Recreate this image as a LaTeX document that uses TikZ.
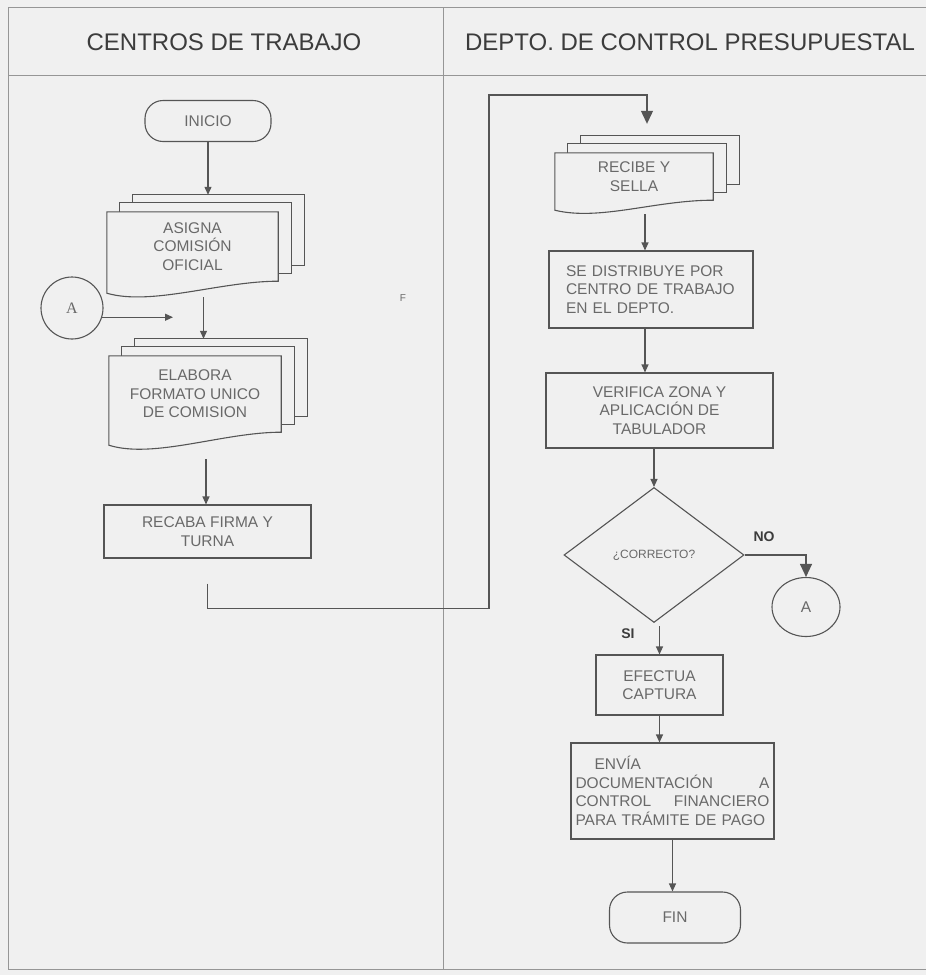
\documentclass[tikz,border=0pt]{standalone}
\usepackage{fontspec}
\setmainfont{Liberation Sans}
\newfontfamily\serifA{Liberation Serif}
\usetikzlibrary{positioning, arrows.meta, shapes.geometric, calc, backgrounds}
\definecolor{paper}{RGB}{240,240,240}
\definecolor{lineg}{RGB}{85,85,85}
\definecolor{frameg}{RGB}{150,150,150}
\definecolor{textg}{RGB}{105,105,105}
\definecolor{headg}{RGB}{60,60,60}
\newcommand\boxfont{\fontsize{15.5}{18.5}\selectfont}
% three stacked sheets behind a node, wavy bottom on the front one
\newcommand\docstack[2]{%
  \begin{pgfonlayer}{background}
    \filldraw[sheet] ($(#1.north west)+(26,-17)$) rectangle ($(#1.south east)+(26,-16)$);
    \filldraw[sheet] ($(#1.north west)+(13,-9)$) rectangle ($(#1.south east)+(13,-8)$);
    \filldraw[sheet] (#1.north west) -- (#1.north east) -- (#1.south east)
      .. controls +(-58,0) and +(45,#2+1) .. ($(#1.south west)+(0,#2)$) -- cycle;
  \end{pgfonlayer}
  \coordinate (#1-top) at ($(#1.north)+(13,-17)$);
  \coordinate (#1-bot) at ($(#1.south)+(11,#2+4)$);}

\begin{document}
\begin{tikzpicture}[x=1pt, y=-1pt,
    ->/.style={-{Triangle[length=8pt, width=7pt]}, draw=lineg, line width=1.1pt},
    bigarrow/.style={-{Triangle[length=13pt, width=12pt]}, draw=lineg, line width=1.1pt},
    sheet/.style={draw=lineg, fill=paper, line width=1.1pt},
    doc/.style={inner sep=0pt, text=textg, font=\boxfont, align=center},
    proc/.style={draw=lineg, line width=1.1pt, text=textg, font=\boxfont, align=center},
    term/.style={proc, rounded corners=18pt},
    frame/.style={draw=frameg, line width=0.9pt}]
  \begin{pgfonlayer}{background}
    \fill[paper] (0,0) rectangle (926,975);
  \end{pgfonlayer}
  \useasboundingbox (0,0) rectangle (926,975);
  % swimlanes
  \draw[frame] (926,7) -- (8,7) -- (8,969) -- (926,969);
  \draw[frame] (8,75) -- (926,75);
  \draw[frame] (443,7) -- (443,969);
  \node[text=headg, font=\fontsize{24}{26}\selectfont] (hcentros) at (224,42) {CENTROS DE TRABAJO};
  \node[text=headg, font=\fontsize{24}{26}\selectfont] (hdepto) at (690,42) {DEPTO. DE CONTROL PRESUPUESTAL};

  % centros de trabajo
  \node[term, minimum width=126pt, minimum height=41pt] (inicio) at (208,121) {INICIO};
  \node[doc, minimum width=171pt, minimum height=69pt] (asigna) at (192.5,246.5) {ASIGNA\\COMISIÓN\\OFICIAL};
  \docstack{asigna}{12}
  \node[draw=lineg, line width=1.1pt, circle, minimum size=62pt, text=textg,
    font=\serifA\fontsize{16}{18}\selectfont] (ca) at (72,308) {A};
  \coordinate (join) at (173,317);
  \node[doc, minimum width=172pt, minimum height=76pt] (elabora) at (195,394) {ELABORA\\FORMATO UNICO\\DE COMISION};
  \docstack{elabora}{13}
  \node[text=textg, font=\fontsize{10}{12}\selectfont] (fmark) at (403,298) {F};
  \node[proc, minimum width=207pt, minimum height=53pt] (recaba) at (207.5,531.5) {RECABA FIRMA Y\\TURNA};

  % depto. de control presupuestal
  \node[doc, minimum width=158pt, minimum height=47pt] (recibe) at (634,176.5) {RECIBE Y\\SELLA};
  \docstack{recibe}{10}
  \node[proc, minimum width=204pt, minimum height=77pt, text width=170pt, inner xsep=17pt,
    align=left] (distrib) at (651,289.5) {SE DISTRIBUYE POR\\CENTRO DE TRABAJO\\EN EL DEPTO.};
  \node[proc, minimum width=227pt, minimum height=75pt] (verifica) at (659.5,410.5) {VERIFICA ZONA Y\\APLICACIÓN DE\\TABULADOR};
  \node[diamond, draw=lineg, line width=1.1pt, minimum width=180pt, minimum height=135pt, inner sep=0pt,
    text=textg, font=\fontsize{12}{14}\selectfont] (correcto) at (654,555) {¿CORRECTO?};
  \node[ellipse, draw=lineg, line width=1.1pt, minimum width=68pt, minimum height=59pt,
    text=textg, font=\boxfont] (cb) at (806,607) {A};
  \node[text=headg, font=\bfseries\fontsize{14}{16}\selectfont] (no) at (764,537) {NO};
  \node[text=headg, font=\bfseries\fontsize{14}{16}\selectfont] (si) at (628,634) {SI};
  \node[proc, minimum width=127pt, minimum height=60pt] (efectua) at (659.5,685) {EFECTUA\\CAPTURA};
  \node[proc, minimum width=203pt, minimum height=96pt, text width=194pt, inner xsep=4.5pt,
    align=left] (envia) at (672.5,791)
    {\hspace*{19pt}ENVÍA\\DOCUMENTACIÓN\hfill A\\CONTROL\hfill FINANCIERO\\PARA TRÁMITE DE PAGO};
  \node[term, minimum width=131pt, minimum height=51pt] (fin) at (675,917.5) {FIN};

  % flow
  \draw[->] (inicio.south) -- (inicio.south |- asigna-top);
  \draw[->] (asigna-bot) -- (asigna-bot |- elabora-top);
  \draw[->] (ca.-17) -- (ca.-17 -| join);
  \draw[->] ([yshift=-10pt]elabora-bot) -- (recaba.north -| elabora-bot);
  \draw[bigarrow] ([yshift=-25pt]recaba.south) -- ++(0,25) -| (489,95) -| ([yshift=12pt]recibe-top);
  \draw[->] (recibe-bot) -- (recibe-bot |- distrib.north);
  \draw[->] (recibe-bot |- distrib.south) -- (recibe-bot |- verifica.north);
  \draw[->] (correcto.north |- verifica.south) -- (correcto.north);
  \draw[bigarrow] (correcto.east) -| (cb.north);
  \draw[->] ([yshift=-3pt]efectua.north |- correcto.south) -- (efectua.north);
  \draw[->] (efectua.south) -- (efectua.south |- envia.north);
  \draw[->] (envia.south) -- (envia.south |- fin.north);
\end{tikzpicture}
\end{document}
